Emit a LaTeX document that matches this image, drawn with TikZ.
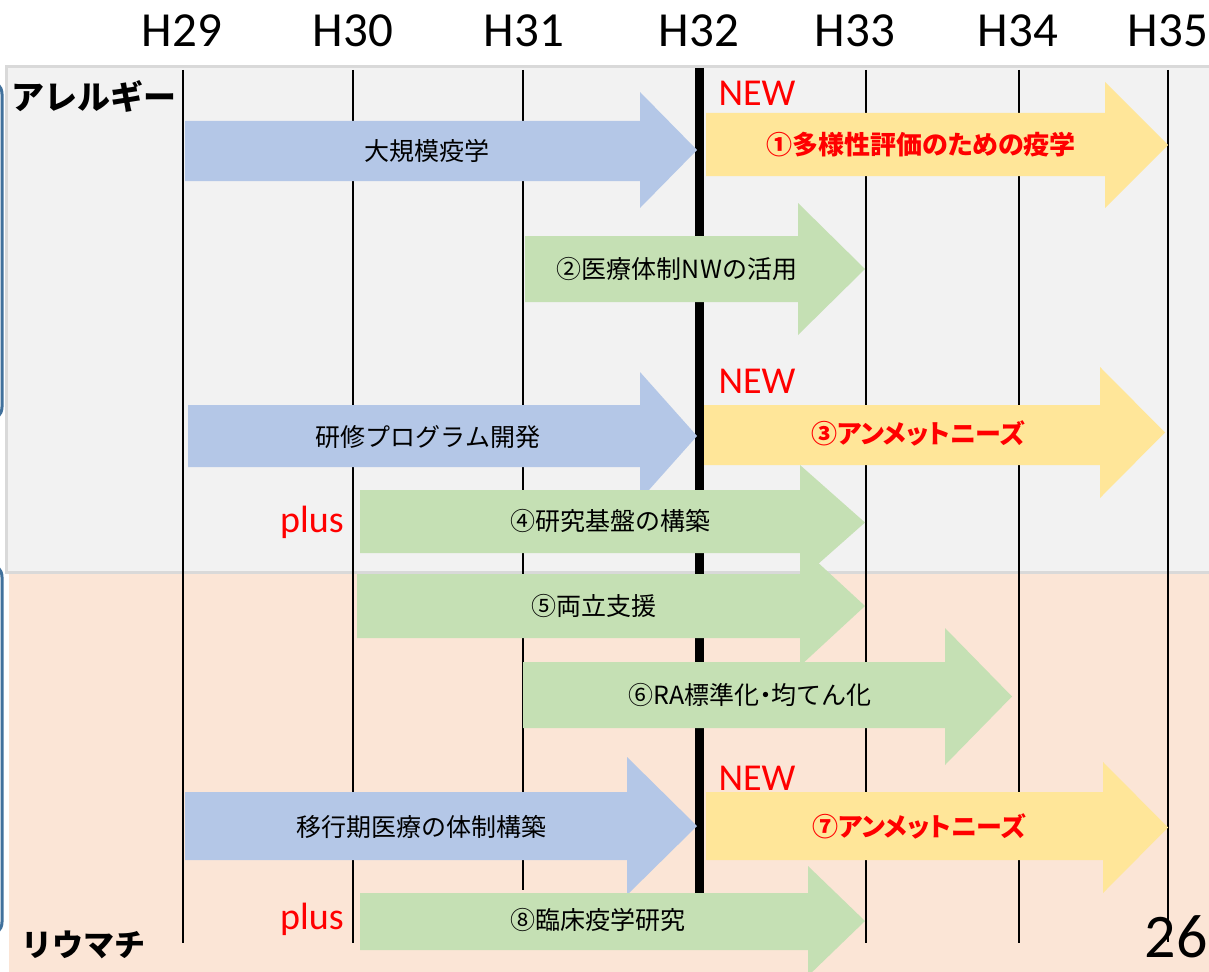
\documentclass[tikz,border=0pt]{standalone}
\usepackage{fontspec}
\setmainfont{Carlito}
\newfontfamily\jp{Noto Sans CJK JP}
\newfontfamily\jpp{Noto Sans CJK JP}[RawFeature=+palt]
\definecolor{panelgray}{HTML}{F2F2F2}
\definecolor{panelborder}{HTML}{D9D9D9}
\definecolor{peach}{HTML}{FBE5D6}
\definecolor{ablue}{HTML}{B4C7E7}
\definecolor{ayellow}{HTML}{FFE699}
\definecolor{agreen}{HTML}{C5E0B4}
\definecolor{brblue}{HTML}{41719C}
\definecolor{newred}{HTML}{FF0000}
% #1 colour, #2 x0, #3 x1 (head base), #4 tip x, #5 body top, #6 body bottom, #7 head top, #8 head bottom
\newcommand\blockarrow[8]{%
  \fill[#1] (#2,#5) -- (#3,#5) -- (#3,#7) -- (#4,{(#7+#8)/2}) -- (#3,#8) -- (#3,#6) -- (#2,#6) -- cycle;}
\tikzset{
  year/.style={font=\fontsize{49}{55}\selectfont, anchor=base, inner sep=0pt},
  gridline/.style={line width=2pt, black},
  arrtext/.style={font=\jp\fontsize{25}{29}\selectfont, inner sep=0pt, text=black},
  redtext/.style={font=\jpp\bfseries\fontsize{26}{30}\selectfont, inner sep=0pt, text=newred},
  newlabel/.style={font=\fontsize{38}{42}\selectfont, text=newred, anchor=base, inner sep=0pt},
  sectlabel/.style={font=\jp\bfseries\fontsize{31}{36}\selectfont, anchor=west, inner sep=0pt},
}
\begin{document}
\begin{tikzpicture}[x=1pt,y=-1pt]
\useasboundingbox (0,0) rectangle (1209,971);
\clip (0,0) rectangle (1209,971);
\fill[white] (0,0) rectangle (1209,971);
% panels
\fill[peach] (9,574) rectangle (1215,980);
\filldraw[fill=panelgray, draw=panelborder, line width=3pt] (6,67) rectangle (1220,572);
% left brackets
\draw[brblue, line width=3pt, rounded corners=14pt] (-60,80) rectangle (2,421);
\draw[brblue, line width=3pt, rounded corners=14pt] (-60,563) rectangle (2,936);
% year labels
\node[year] (y29) at (182,47) {H29};
\node[year] (y30) at (353,47) {H30};
\node[year] (y31) at (524,47) {H31};
\node[year] (y32) at (699,47) {H32};
\node[year] (y33) at (855,47) {H33};
\node[year] (y34) at (1018,47) {H34};
\node[year] (y35) at (1168,47) {H35};
% grid lines
\draw[gridline] (183,70) -- (183,943);
\draw[gridline] (353,70) -- (353,943);
\draw[gridline, line width=1.5pt] (523,70) -- (523,890);
\draw[gridline] (866,70) -- (866,943);
\draw[gridline] (1019,70) -- (1019,943);
\draw[gridline] (1168,70) -- (1168,942);
\draw[line width=9pt, black] (699.5,68) -- (699.5,893);
% arrows
\blockarrow{ablue}{185}{640}{697}{121}{181}{92}{208}
\blockarrow{ayellow}{706}{1105}{1168}{113}{176}{82}{208}
\blockarrow{agreen}{525}{798}{865}{236}{302}{203}{335}
\blockarrow{ablue}{188}{640}{697}{405}{467}{372}{500}
\blockarrow{ayellow}{704}{1100}{1165}{405}{465}{367}{498}
\blockarrow{agreen}{360}{800}{865}{490}{553}{465}{580}
\blockarrow{agreen}{357}{800}{865}{574}{638}{546}{666}
\blockarrow{agreen}{523}{945}{1012}{662}{728}{628}{765}
\blockarrow{ablue}{185}{627}{697}{792}{860}{757}{895}
\blockarrow{ayellow}{706}{1103}{1168}{792}{860}{762}{893}
\blockarrow{agreen}{360}{808}{865}{893}{950}{866}{976}
% arrow texts
\node[arrtext] (t1) at (427,151) {大規模疫学};
\node[redtext] (t2) at (921,145) {①多様性評価のための疫学};
\node[arrtext] (t3) at (677,269) {②医療体制NWの活用};
\node[arrtext] (t4) at (428,437) {研修プログラム開発};
\node[redtext] (t5) at (918,433) {③アンメットニーズ};
\node[arrtext] (t6) at (610,521) {④研究基盤の構築};
\node[arrtext] (t7) at (594,606) {⑤両立支援};
\node[arrtext] (t8) at (750,695) {⑥RA標準化{\jpp ・}均てん化};
\node[arrtext] (t9) at (421,827) {移行期医療の体制構築};
\node[redtext] (t10) at (919,826) {⑦アンメットニーズ};
\node[arrtext] (t11) at (598,920) {⑧臨床疫学研究};
% NEW / plus labels
\node[newlabel] (n1) at (757,106) {NEW};
\node[newlabel] (n2) at (757,393) {NEW};
\node[newlabel] (n3) at (757,790) {NEW};
\node[newlabel] (p1) at (312,532) {plus};
\node[newlabel] (p2) at (312,929) {plus};
% section labels
\node[sectlabel, font=\jp\bfseries\fontsize{33}{38}\selectfont] (allergy) at (11,96) {アレルギー};
\node[sectlabel] (rheuma) at (21,945) {リウマチ};
% page number
\node[font=\fontsize{62}{68}\selectfont, anchor=base east, inner sep=0pt] (pg) at (1208,957) {26};
\end{tikzpicture}
\end{document}
